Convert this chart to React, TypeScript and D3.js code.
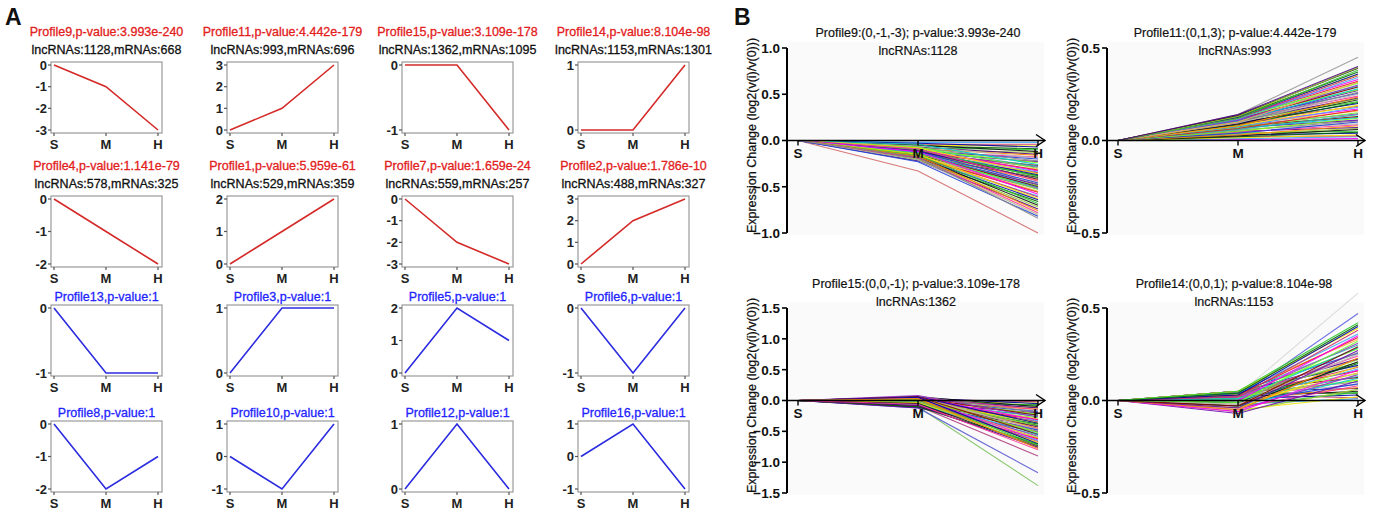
import React from "react";
import * as d3 from "d3";

// ---------- DATA ----------
const stages = ["S", "M", "H"];

const aNames = [
  "Profile9", "Profile11", "Profile15", "Profile14",
  "Profile4", "Profile1", "Profile7", "Profile2",
  "Profile13", "Profile3", "Profile5", "Profile6",
  "Profile8", "Profile10", "Profile12", "Profile16",
];
const aPvals = [
  "3.993e-240", "4.442e-179", "3.109e-178", "8.104e-98",
  "1.141e-79", "5.959e-61", "1.659e-24", "1.786e-10",
  "1", "1", "1", "1", "1", "1", "1", "1",
];
const aLnc = [1128, 993, 1362, 1153, 578, 529, 559, 488];
const aMrna = [668, 696, 1095, 1301, 325, 359, 257, 327];
const aSeries = [
  [0, -1, -3], [0, 1, 3], [0, 0, -1], [0, 0, 1],
  [0, -1, -2], [0, 1, 2], [0, -2, -3], [0, 2, 3],
  [0, -1, -1], [0, 1, 1], [0, 2, 1], [0, -1, 0],
  [0, -2, -1], [0, -1, 1], [0, 1, 0], [0, 1, -1],
];

const bTitles = [
  "Profile9:(0,-1,-3); p-value:3.993e-240",
  "Profile11:(0,1,3); p-value:4.442e-179",
  "Profile15:(0,0,-1); p-value:3.109e-178",
  "Profile14:(0,0,1); p-value:8.104e-98",
];
const bLnc = [1128, 993, 1362, 1153];
const bDomains = [[-1, 1], [-0.5, 0.5], [-1.5, 1.5], [-0.5, 0.5]];
const bTicks = [
  [-1, -0.5, 0, 0.5, 1],
  [-0.5, 0, 0.5],
  [-1.5, -1, -0.5, 0, 0.5, 1, 1.5],
  [-0.5, 0, 0.5],
];

// [value at M, value at H] of individual lncRNAs (value at S is 0)
const p9Lines = [
  [-0.33, -1.0], [-0.2, -0.8],
  [-0.02, -0.02], [-0.04, -0.04], [-0.05, -0.06], [-0.03, -0.07], [-0.06, -0.09],
  [-0.08, -0.1], [-0.05, -0.12], [-0.1, -0.13], [-0.07, -0.15], [-0.09, -0.16],
  [-0.12, -0.18], [-0.06, -0.19], [-0.11, -0.2], [-0.08, -0.22], [-0.13, -0.23],
  [-0.1, -0.24], [-0.04, -0.26], [-0.14, -0.27], [-0.09, -0.28], [-0.12, -0.29],
  [-0.07, -0.3], [-0.15, -0.31], [-0.11, -0.32], [-0.1, -0.33], [-0.13, -0.34],
  [-0.16, -0.35], [-0.08, -0.36], [-0.12, -0.37], [-0.14, -0.38], [-0.1, -0.39],
  [-0.17, -0.4], [-0.13, -0.41], [-0.11, -0.42], [-0.15, -0.43], [-0.09, -0.44],
  [-0.18, -0.45], [-0.12, -0.46], [-0.16, -0.47], [-0.14, -0.48], [-0.19, -0.49],
  [-0.13, -0.5], [-0.15, -0.5], [-0.17, -0.51], [-0.2, -0.52], [-0.14, -0.53],
  [-0.16, -0.55], [-0.18, -0.56], [-0.12, -0.58], [-0.2, -0.6], [-0.17, -0.61],
  [-0.15, -0.63], [-0.19, -0.64], [-0.21, -0.66], [-0.16, -0.68], [-0.18, -0.7],
  [-0.2, -0.72], [-0.22, -0.74], [-0.17, -0.76], [-0.19, -0.78], [-0.21, -0.8],
  [-0.23, -0.82], [-0.18, -0.84],
];
const p11Lines = [
  [0.14, 0.45],
  [0.005, 0.01], [0.01, 0.02], [0.02, 0.025], [0.015, 0.03], [0.03, 0.04],
  [0.02, 0.045], [0.04, 0.05], [0.025, 0.06], [0.035, 0.065], [0.05, 0.07],
  [0.03, 0.08], [0.045, 0.085], [0.06, 0.09], [0.04, 0.1], [0.055, 0.105],
  [0.07, 0.11], [0.05, 0.12], [0.065, 0.125], [0.075, 0.13], [0.06, 0.14],
  [0.08, 0.145], [0.07, 0.15], [0.085, 0.16], [0.065, 0.165], [0.09, 0.17],
  [0.075, 0.18], [0.1, 0.185], [0.08, 0.19], [0.095, 0.2], [0.085, 0.205],
  [0.11, 0.21], [0.09, 0.22], [0.1, 0.225], [0.105, 0.23], [0.08, 0.235],
  [0.115, 0.24], [0.095, 0.25], [0.12, 0.255], [0.1, 0.26], [0.11, 0.27],
  [0.125, 0.275], [0.105, 0.28], [0.115, 0.29], [0.13, 0.295], [0.11, 0.3],
  [0.12, 0.31], [0.1, 0.315], [0.125, 0.32], [0.13, 0.33], [0.115, 0.34],
  [0.12, 0.35], [0.135, 0.355], [0.125, 0.36], [0.13, 0.37], [0.12, 0.38],
  [0.135, 0.39], [0.13, 0.395], [0.14, 0.4],
];
const p15Lines = [
  [-0.1, -1.38], [-0.12, -1.17], [-0.09, -0.9],
  [0.02, -0.02], [-0.02, -0.04], [0.04, -0.05], [-0.04, -0.07], [0.01, -0.08],
  [0.06, -0.1], [-0.06, -0.11], [0.03, -0.12], [-0.03, -0.14], [0.05, -0.15],
  [-0.08, -0.16], [0.0, -0.18], [0.07, -0.19], [-0.05, -0.2], [0.02, -0.22],
  [-0.1, -0.23], [0.04, -0.24], [-0.02, -0.26], [0.08, -0.27], [-0.07, -0.28],
  [0.01, -0.3], [-0.04, -0.31], [0.05, -0.32], [-0.09, -0.33], [0.03, -0.35],
  [-0.01, -0.36], [0.06, -0.37], [-0.06, -0.38], [0.0, -0.4], [-0.11, -0.41],
  [0.04, -0.42], [-0.03, -0.43], [0.02, -0.45], [-0.08, -0.46], [0.05, -0.47],
  [-0.05, -0.48], [0.01, -0.5], [-0.12, -0.51], [0.03, -0.52], [-0.02, -0.54],
  [0.06, -0.55], [-0.07, -0.56], [0.0, -0.58], [-0.04, -0.6], [0.02, -0.61],
  [-0.09, -0.62], [0.04, -0.64], [-0.06, -0.65], [0.01, -0.67], [-0.03, -0.68],
  [0.05, -0.7], [-0.1, -0.71], [0.02, -0.72], [-0.05, -0.74], [0.0, -0.75],
  [-0.08, -0.76], [0.03, -0.78], [-0.06, -0.8],
];
const p14Lines = [
  [0.03, 0.58], [0.02, 0.47],
  [-0.02, 0.01], [0.03, 0.015], [-0.05, 0.02], [0.01, 0.03], [0.04, 0.04],
  [-0.03, 0.045], [0.02, 0.05], [-0.06, 0.06], [0.05, 0.065], [0.0, 0.07],
  [-0.04, 0.08], [0.03, 0.085], [-0.01, 0.09], [0.04, 0.1], [-0.07, 0.105],
  [0.02, 0.11], [-0.03, 0.12], [0.05, 0.125], [0.01, 0.13], [-0.05, 0.14],
  [0.03, 0.145], [-0.02, 0.15], [0.04, 0.16], [-0.06, 0.165], [0.0, 0.17],
  [0.02, 0.18], [-0.04, 0.185], [0.05, 0.19], [-0.01, 0.2], [0.03, 0.205],
  [-0.03, 0.21], [0.01, 0.22], [0.04, 0.225], [-0.05, 0.23], [0.02, 0.24],
  [-0.02, 0.25], [0.05, 0.255], [0.0, 0.26], [-0.04, 0.27], [0.03, 0.28],
  [0.01, 0.285], [-0.03, 0.29], [0.04, 0.3], [0.02, 0.31], [-0.01, 0.32],
  [0.05, 0.33], [0.03, 0.34], [0.0, 0.35], [0.04, 0.36], [0.02, 0.38],
  [0.05, 0.39], [0.03, 0.4], [0.04, 0.41], [0.05, 0.42],
];
const bLines = [p9Lines, p11Lines, p15Lines, p14Lines];

// ---------- STYLE / LAYOUT ----------
const FONT = "'Liberation Sans', Arial, Helvetica, sans-serif";
const RED_TEXT = "#e3201c";
const BLUE_TEXT = "#2424ff";
const RED_LINE = "#d42a28";
const BLUE_LINE = "#2b2be0";
const palette = [
  "#e41a1c", "#33cc33", "#1f3fd8", "#9b30c8", "#f2e600", "#ff8c00", "#00c8d0",
  "#ff00ff", "#111111", "#8a8a8a", "#66ff33", "#0000aa", "#ff3399", "#8b0000",
  "#3fa9f5", "#9acd32", "#6a0dad", "#ffb347", "#006400", "#b8b8b8", "#20b2aa",
  "#cc3366", "#4b0082", "#7fff00",
];
// colours of the first (outlier) lines in each B panel
const bLeadColors = [
  ["#d46a6a", "#f0e040"],
  ["#9a9a9a"],
  ["#7ac05a", "#5a5ad0", "#b04080"],
  ["#d8d8d8", "#6060e0"],
];

const aColX = [51, 227, 402, 578];
const aRowY = [62, 196, 305, 421];
const aBoxW = 111;
const aBoxH = 71;

const bAxisX = [787, 1107, 787, 1107];
const bTop = [48, 48, 308, 308];
const bBottom = [233, 233, 493, 493];
const bTitleX = [918, 1235, 916, 1234];
const bTitleY = [37, 37, 288, 288];

const heavy = (c: string, w = 0.3) => ({ stroke: c, strokeWidth: w });

function SmallProfile({ idx }: { idx: number }) {
  const col = idx % 4;
  const row = Math.floor(idx / 4);
  const x0 = aColX[col];
  const y0 = aRowY[row];
  const vals = aSeries[idx];
  const ext = d3.extent(vals) as [number, number];
  const x = d3.scalePoint<string>().domain(stages).range([x0 + 3, x0 + aBoxW - 4]);
  const y = d3.scaleLinear().domain(ext).range([y0 + aBoxH - 3, y0 + 3]);
  const ticks = d3.range(ext[0], ext[1] + 1, 1);
  const sig = row < 2;
  const line = d3
    .line<number>()
    .x((_, i) => x(stages[i]) as number)
    .y((d) => y(d));
  const cx = x0 + aBoxW / 2;
  return (
    <g>
      {sig ? (
        <>
          <text x={cx} y={y0 - 26} textAnchor="middle" fontSize={12.5} fill={RED_TEXT} {...heavy(RED_TEXT)} fontFamily={FONT}>
            {`${aNames[idx]},p-value:${aPvals[idx]}`}
          </text>
          <text x={cx} y={y0 - 8} textAnchor="middle" fontSize={12.5} fill="#111" {...heavy("#111")} fontFamily={FONT}>
            {`lncRNAs:${aLnc[idx]},mRNAs:${aMrna[idx]}`}
          </text>
        </>
      ) : (
        <text x={cx} y={y0 - 4} textAnchor="middle" fontSize={12.5} fill={BLUE_TEXT} {...heavy(BLUE_TEXT)} fontFamily={FONT}>
          {`${aNames[idx]},p-value:${aPvals[idx]}`}
        </text>
      )}
      <rect x={x0} y={y0} width={aBoxW} height={aBoxH} fill="none" stroke="#9a9a9a" strokeWidth={1.2} />
      {ticks.map((t) => (
        <g key={t}>
          <line x1={x0 - 3} x2={x0} y1={y(t)} y2={y(t)} stroke="#555" strokeWidth={1.2} />
          <text x={x0 - 4} y={y(t)} dy="0.36em" textAnchor="end" fontSize={13} fontWeight="bold" fill="#222" fontFamily={FONT}>
            {t}
          </text>
        </g>
      ))}
      {stages.map((s) => (
        <g key={s}>
          <line x1={x(s)} x2={x(s)} y1={y0 + aBoxH} y2={y0 + aBoxH + 3} stroke="#555" strokeWidth={1.2} />
          <text x={x(s)} y={y0 + aBoxH + 16} textAnchor="middle" fontSize={13} fontWeight="bold" fill="#222" fontFamily={FONT}>
            {s}
          </text>
        </g>
      ))}
      <path d={line(vals) || ""} fill="none" stroke={sig ? RED_LINE : BLUE_LINE} strokeWidth={1.6} />
    </g>
  );
}

function FanPanel({ idx }: { idx: number }) {
  const ax = bAxisX[idx];
  const top = bTop[idx];
  const bottom = bBottom[idx];
  const y = d3.scaleLinear().domain(bDomains[idx]).range([bottom, top]);
  const x = d3.scalePoint<string>().domain(stages).range([ax + 11, ax + 251]);
  const y0 = y(0);
  const arrowEnd = ax + 258;
  const lines = bLines[idx];
  const lead = bLeadColors[idx];
  const gen = d3
    .line<number>()
    .x((_, i) => x(stages[i]) as number)
    .y((d) => y(d));
  const fmt = d3.format(".1f");
  const midY = (top + bottom) / 2 - 5;
  return (
    <g>
      <rect x={ax + 1} y={top - 6} width={256} height={bottom - top + 8} fill="#fafafa" />
      <text x={bTitleX[idx]} y={bTitleY[idx]} textAnchor="middle" fontSize={12.5} fill="#111" {...heavy("#111", 0.2)} fontFamily={FONT}>
        {bTitles[idx]}
      </text>
      <text x={bTitleX[idx]} y={bTitleY[idx] + 18} textAnchor="middle" fontSize={12.5} fill="#111" {...heavy("#111", 0.2)} fontFamily={FONT}>
        {`lncRNAs:${bLnc[idx]}`}
      </text>
      <text
        transform={`translate(${ax - 35},${midY}) rotate(-90)`}
        textAnchor="middle"
        dy="0.35em"
        fontSize={12.5}
        fill="#111"
        {...heavy("#111", 0.25)}
        fontFamily={FONT}
      >
        Expression Change (log2(v(i)/v(0)))
      </text>
      {lines.map((l, i) => {
        const c = i < lead.length ? lead[i] : palette[(i * 7) % palette.length];
        return (
          <path key={i} d={gen([0, l[0], l[1]]) || ""} fill="none" stroke={c} strokeWidth={1.1} strokeOpacity={0.9} />
        );
      })}
      <line x1={ax} x2={ax} y1={top} y2={bottom} stroke="#000" strokeWidth={2} />
      {bTicks[idx].map((t) => (
        <g key={t}>
          <line x1={ax - 5} x2={ax} y1={y(t)} y2={y(t)} stroke="#000" strokeWidth={1.6} />
          <text x={ax - 7} y={y(t)} dy="0.36em" textAnchor="end" fontSize={13.5} fontWeight="bold" fill="#111" fontFamily={FONT}>
            {fmt(t)}
          </text>
        </g>
      ))}
      <line x1={ax} x2={arrowEnd} y1={y0} y2={y0} stroke="#000" strokeWidth={1.6} />
      <path d={`M${arrowEnd - 9},${y0 - 6}L${arrowEnd},${y0}L${arrowEnd - 9},${y0 + 6}`} fill="none" stroke="#000" strokeWidth={1.4} />
      {stages.map((s) => (
        <g key={s}>
          <line x1={x(s)} x2={x(s)} y1={y0} y2={y0 + 5} stroke="#000" strokeWidth={1.4} />
          <text x={x(s)} y={y0 + 17} textAnchor="middle" fontSize={13.5} fontWeight="bold" fill="#111" fontFamily={FONT}>
            {s}
          </text>
        </g>
      ))}
    </g>
  );
}

export default function App() {
  return (
    <svg
      width={1378}
      height={513}
      style={{ position: "absolute", left: 0, top: 0, background: "#fff" }}
      fontFamily={FONT}
    >
      <rect width={1378} height={513} fill="#fff" />
      <text x={5} y={25} fontSize={23} fontWeight="bold" fill="#111">A</text>
      <text x={734} y={25} fontSize={23} fontWeight="bold" fill="#111">B</text>
      {aSeries.map((_, i) => (
        <SmallProfile key={i} idx={i} />
      ))}
      {bLines.map((_, i) => (
        <FanPanel key={i} idx={i} />
      ))}
    </svg>
  );
}
